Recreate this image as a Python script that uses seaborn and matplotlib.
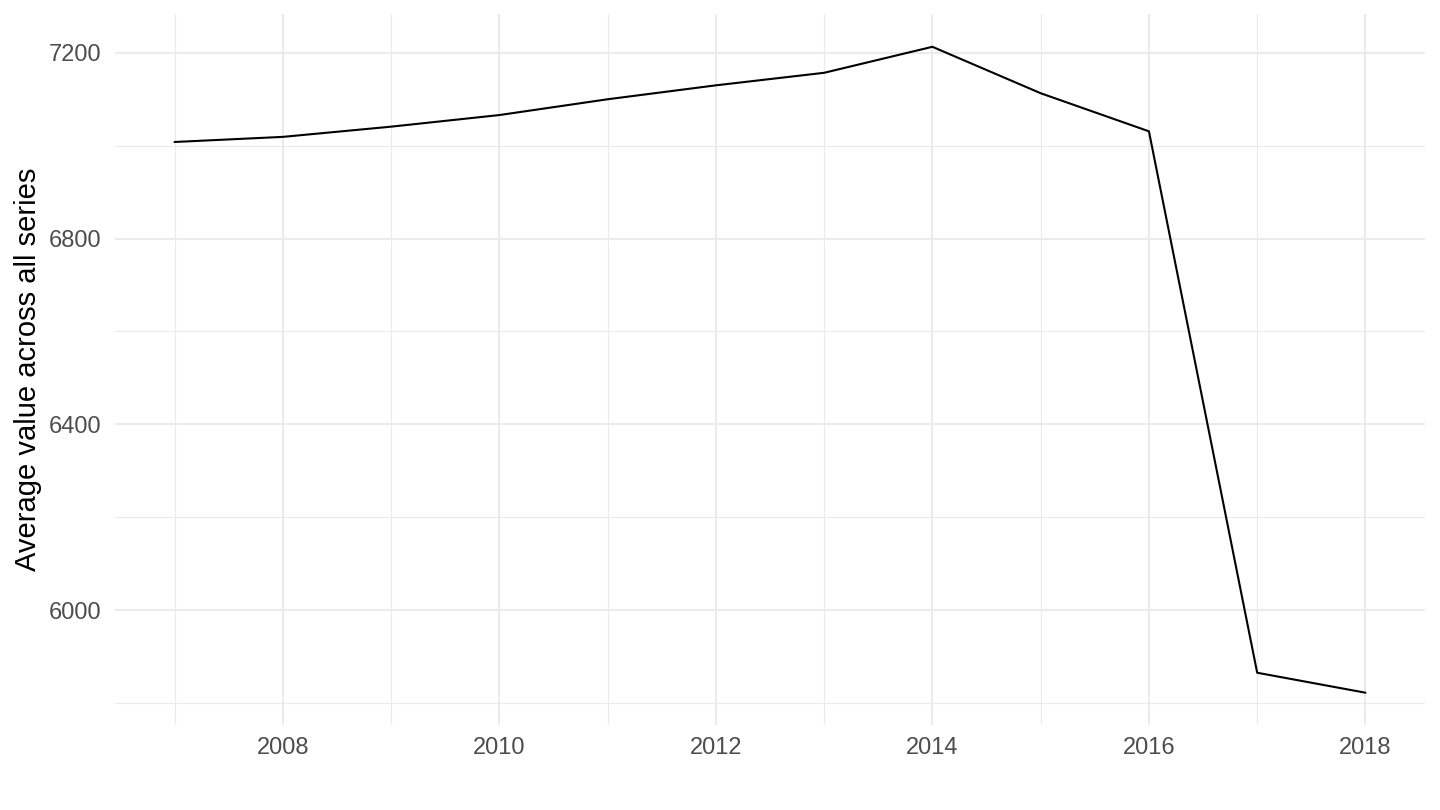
import matplotlib
matplotlib.use("Agg")
import matplotlib.pyplot as plt
import pandas as pd
import seaborn as sns
from matplotlib.ticker import MultipleLocator

# ── 数据 ──────────────────────────────────────────────────────────
years = [2007, 2008, 2009, 2010, 2011, 2012, 2013, 2014, 2015, 2016, 2017, 2018]
avg_values = [7008, 7019, 7041, 7066, 7100, 7130, 7157, 7213, 7113, 7031, 5865, 5822]

x_ticks = [2008, 2010, 2012, 2014, 2016, 2018]
y_ticks = [6000, 6400, 6800, 7200]

df = pd.DataFrame({"year": years, "value": avg_values})

# ── 样式 ──────────────────────────────────────────────────────────
sns.set_theme(style="white")
plt.rcParams["font.family"] = ["Liberation Sans", "DejaVu Sans"]

fig = plt.figure(figsize=(14.4, 8.1), dpi=100)
ax = fig.add_axes([115 / 1440, 1 - 725 / 810, 1310 / 1440, 710.5 / 810])

sns.lineplot(data=df, x="year", y="value", color="black", linewidth=1.5, ax=ax)

# ggplot 式 5% 扩展
xr = max(years) - min(years)
yr = max(avg_values) - min(avg_values)
ax.set_xlim(min(years) - 0.05 * xr, max(years) + 0.05 * xr)
ax.set_ylim(min(avg_values) - 0.05 * yr, max(avg_values) + 0.05 * yr)

ax.set_xticks(x_ticks)
ax.set_yticks(y_ticks)
ax.xaxis.set_minor_locator(MultipleLocator(1))
ax.yaxis.set_minor_locator(MultipleLocator(200))

ax.grid(which="major", color="#EBEBEB", linewidth=1.5)
ax.grid(which="minor", color="#EBEBEB", linewidth=0.8)
ax.set_axisbelow(True)

for s in ax.spines.values():
    s.set_visible(False)

ax.tick_params(which="both", length=0)
ax.tick_params(axis="y", pad=10, labelsize=17, labelcolor="#4D4D4D")
ax.tick_params(axis="x", pad=9, labelsize=17, labelcolor="#4D4D4D")

ax.set_xlabel("")
ax.set_ylabel("Average value across all series", fontsize=21, color="black", labelpad=5)

fig.savefig("out.png", dpi=100, facecolor="white")
plt.close(fig)
